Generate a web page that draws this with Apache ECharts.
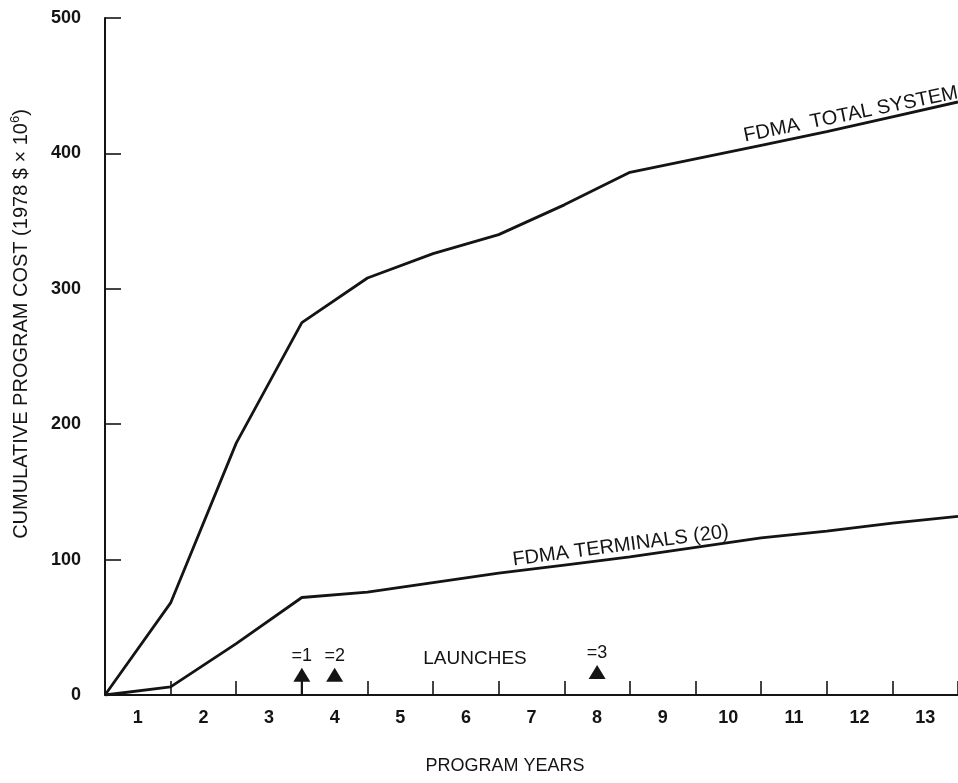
<!DOCTYPE html>
<html>
<head>
<meta charset="utf-8">
<script src="https://cdn.jsdelivr.net/npm/echarts@6/dist/echarts.min.js"></script>
<style>
  html, body { margin: 0; padding: 0; background: #ffffff; }
  #chart { width: 958px; height: 783px; }
</style>
</head>
<body>
<div id="chart"></div>
<script>
// Cumulative program cost, millions of 1978 dollars, at each year boundary
const programYears    = [0.5, 1.5, 2.5, 3.5, 4.5, 5.5, 6.5, 7.5, 8.5, 9.5, 10.5, 11.5, 12.5, 13.5];
const totalSystemCost = [0, 68, 186, 275, 308, 326, 340, 362, 386, 396, 406, 416, 427, 438];
const terminalsCost   = [0, 6, 38, 72, 76, 83, 90, 96, 102, 109, 116, 121, 127, 132];

// Axis labelling
const yearLabels = ['1', '2', '3', '4', '5', '6', '7', '8', '9', '10', '11', '12', '13'];
const costTicks  = [0, 100, 200, 300, 400, 500];

// Satellite launches
const launchYears       = [3.5, 4, 8];
const launchNames       = ['=1', '=2', '=3'];
const launchMarkerLevel = [15, 15, 17];
const launchStemTop     = 11;

const INK = '#141414';
const FONT = '"Liberation Sans", Arial, Helvetica, sans-serif';

const chart = echarts.init(document.getElementById('chart'), null, { renderer: 'canvas' });

const pairs = (xs, ys) => xs.map((x, i) => [x, ys[i]]);

chart.setOption({
  backgroundColor: '#ffffff',
  animation: false,
  grid: { left: 105, right: 0, top: 18, bottom: 88, containLabel: false },
  xAxis: [
    {
      type: 'value',
      position: 'bottom',
      min: programYears[0],
      max: programYears[programYears.length - 1],
      axisLine: { show: true, lineStyle: { color: INK, width: 2 } },
      axisTick: { show: false },
      axisLabel: { show: false },
      splitLine: { show: false }
    },
    {
      type: 'category',
      position: 'bottom',
      data: yearLabels,
      boundaryGap: true,
      axisLine: { show: false },
      axisTick: { show: true, inside: true, length: 14, alignWithLabel: false, lineStyle: { color: INK, width: 1.6 } },
      axisLabel: { show: true, margin: 14, color: INK, fontSize: 18, fontWeight: 'bold', fontFamily: FONT },
      splitLine: { show: false }
    }
  ],
  yAxis: {
    type: 'value',
    min: costTicks[0],
    max: costTicks[costTicks.length - 1],
    interval: costTicks[1] - costTicks[0],
    axisLine: { show: true, lineStyle: { color: INK, width: 2 } },
    axisTick: { show: true, inside: true, length: 16, lineStyle: { color: INK, width: 1.6 } },
    axisLabel: { show: true, margin: 24, color: INK, fontSize: 18, fontWeight: 'bold', fontFamily: FONT },
    splitLine: { show: false }
  },
  series: [
    {
      name: 'FDMA TOTAL SYSTEM',
      type: 'line',
      xAxisIndex: 0,
      data: pairs(programYears, totalSystemCost),
      showSymbol: false,
      lineStyle: { color: INK, width: 2.8 },
      silent: true
    },
    {
      name: 'FDMA TERMINALS (20)',
      type: 'line',
      xAxisIndex: 0,
      data: pairs(programYears, terminalsCost),
      showSymbol: false,
      lineStyle: { color: INK, width: 2.8 },
      silent: true
    },
    {
      name: 'Launch stem',
      type: 'line',
      xAxisIndex: 0,
      data: [[launchYears[0], 0], [launchYears[0], launchStemTop]],
      showSymbol: false,
      lineStyle: { color: INK, width: 2.2 },
      silent: true
    },
    {
      name: 'Launches',
      type: 'scatter',
      xAxisIndex: 0,
      symbol: 'triangle',
      symbolSize: [17, 14],
      itemStyle: { color: INK, opacity: 1 },
      data: launchYears.map((yr, i) => ({ name: launchNames[i], value: [yr, launchMarkerLevel[i]] })),
      label: {
        show: true,
        position: 'top',
        distance: 3,
        formatter: p => p.name,
        color: INK,
        opacity: 1,
        fontSize: 18,
        fontFamily: FONT
      },
      silent: true
    }
  ],
  graphic: [
    {
      type: 'text',
      x: 21, y: 324,
      rotation: Math.PI / 2,
      style: {
        text: '{m|CUMULATIVE PROGRAM COST (1978 $ × 10}{s|6}{m|)}',
        align: 'center', verticalAlign: 'middle',
        textAlign: 'center', textVerticalAlign: 'middle',
        fill: INK,
        rich: {
          m: { fontSize: 20, fontFamily: FONT, lineHeight: 24, fill: INK, color: INK },
          s: { fontSize: 13, fontFamily: FONT, lineHeight: 24, verticalAlign: 'top', fill: INK, color: INK }
        }
      }
    },
    {
      type: 'text',
      x: 505, y: 766,
      style: {
        text: 'PROGRAM YEARS',
        font: '18px ' + FONT,
        align: 'center', verticalAlign: 'middle',
        textAlign: 'center', textVerticalAlign: 'middle',
        fill: INK
      }
    },
    {
      type: 'text',
      x: 475, y: 659,
      style: {
        text: 'LAUNCHES',
        font: '19px ' + FONT,
        align: 'center', verticalAlign: 'middle',
        textAlign: 'center', textVerticalAlign: 'middle',
        fill: INK
      }
    },
    {
      type: 'text',
      x: 746, y: 146,
      rotation: 11.5 * Math.PI / 180,
      style: {
        text: 'FDMA  TOTAL SYSTEM',
        font: '20px ' + FONT,
        align: 'left', verticalAlign: 'bottom',
        textAlign: 'left', textVerticalAlign: 'bottom',
        fill: INK
      }
    },
    {
      type: 'text',
      x: 514, y: 570,
      rotation: 7.5 * Math.PI / 180,
      style: {
        text: 'FDMA TERMINALS (20)',
        font: '20px ' + FONT,
        align: 'left', verticalAlign: 'bottom',
        textAlign: 'left', textVerticalAlign: 'bottom',
        fill: INK
      }
    }
  ]
});
</script>
</body>
</html>
